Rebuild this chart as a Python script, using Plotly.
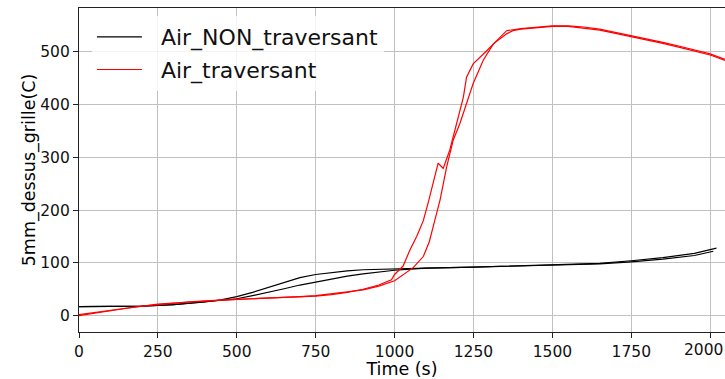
import plotly.graph_objects as go

# Air_NON_traversant, run 1 and run 2
non_t1 = [0, 100, 200, 300, 400, 450, 500, 550, 600, 650, 700, 750, 800, 850, 900, 950, 1000, 1100, 1250, 1500, 1650, 1750, 1850, 1950, 2020]
non_y1 = [17, 17, 18, 21, 26, 30, 36, 44, 53, 63, 72, 78, 82, 85, 87, 88, 89, 90, 92, 96, 99, 104, 110, 118, 128]
non_t2 = [0, 100, 200, 300, 400, 450, 500, 550, 600, 650, 700, 750, 800, 850, 900, 950, 1000, 1050, 1100, 1250, 1500, 1650, 1750, 1850, 1950, 2010]
non_y2 = [17, 17, 18, 21, 26, 29, 32, 38, 44, 51, 58, 64, 70, 75, 79, 83, 86, 88, 90, 92, 96, 98, 102, 107, 114, 122]

# Air_traversant, run 1 and run 2
tra_t1 = [0, 50, 100, 150, 200, 250, 300, 350, 400, 450, 500, 550, 600, 650, 700, 750, 800, 850, 900, 950, 990, 1000, 1027, 1049, 1070, 1091, 1107, 1125, 1138, 1146, 1154, 1175, 1197, 1218, 1228, 1249, 1292, 1323, 1355, 1400, 1450, 1500, 1550, 1600, 1650, 1700, 1750, 1800, 1850, 1900, 1950, 2000, 2050]
tra_y1 = [0, 5, 10, 14, 18, 21, 24, 26, 28, 30, 31, 32, 33, 34, 35, 37, 40, 44, 50, 58, 68, 78, 94, 125, 150, 180, 215, 255, 289, 284, 279, 314, 364, 414, 452, 477, 502, 521, 540, 544, 547, 549, 549, 547, 543, 537, 531, 524, 518, 511, 503, 496, 485]
tra_t2 = [0, 50, 100, 150, 200, 250, 300, 350, 400, 450, 500, 550, 600, 650, 700, 750, 800, 850, 900, 950, 1000, 1030, 1059, 1091, 1110, 1128, 1144, 1165, 1186, 1207, 1228, 1249, 1281, 1313, 1355, 1375, 1400, 1450, 1500, 1550, 1600, 1650, 1700, 1750, 1800, 1850, 1900, 1950, 2000, 2050]
tra_y2 = [2, 6, 10, 15, 19, 22, 24, 26, 28, 30, 31, 32, 33, 34, 36, 38, 41, 45, 49, 56, 66, 78, 91, 112, 140, 182, 219, 282, 333, 364, 402, 440, 484, 515, 534, 540, 543, 546, 548, 548, 545, 541, 535, 529, 522, 516, 509, 501, 494, 483]

x_ticks = [0, 250, 500, 750, 1000, 1250, 1500, 1750, 2000]
y_ticks = [0, 100, 200, 300, 400, 500]

pad = "\u00a0\u00a0"  # gap between legend line sample and label

fig = go.Figure()
fig.add_trace(go.Scatter(x=non_t1, y=non_y1, mode="lines", name=pad + "Air_NON_traversant",
                         line=dict(color="black", width=1.2), legendgroup="non"))
fig.add_trace(go.Scatter(x=non_t2, y=non_y2, mode="lines", name=pad + "Air_NON_traversant",
                         line=dict(color="black", width=1.2), legendgroup="non", showlegend=False))
fig.add_trace(go.Scatter(x=tra_t1, y=tra_y1, mode="lines", name=pad + "Air_traversant",
                         line=dict(color="red", width=1.2), legendgroup="tra"))
fig.add_trace(go.Scatter(x=tra_t2, y=tra_y2, mode="lines", name=pad + "Air_traversant",
                         line=dict(color="red", width=1.2), legendgroup="tra", showlegend=False))

font = "DejaVu Sans, sans-serif"
tick_font = dict(family=font, size=15.5, color="#111111")

# last tick label sits at the window edge, as in the reference
fig.add_annotation(x=1, y=0, xref="paper", yref="paper", text=str(x_ticks[-1]),
                   showarrow=False, xanchor="right", yanchor="top", yshift=-7,
                   font=tick_font)

fig.update_layout(
    width=725, height=379,
    margin=dict(l=79, r=0, t=8, b=47),
    paper_bgcolor="white", plot_bgcolor="white",
    font=dict(family=font, size=15, color="black"),
    showlegend=True,
    legend=dict(x=0.020, y=0.975, xanchor="left", yanchor="top",
                bgcolor="rgba(255,255,255,0.8)", borderwidth=0,
                font=dict(family=font, size=22, color="#111111"), itemwidth=45,
                tracegroupgap=1),
    xaxis=dict(range=[0, 2047], tickvals=x_ticks, ticktext=[str(v) for v in x_ticks],
               showgrid=True, gridcolor="#c0c0c0", gridwidth=1,
               showline=True, linecolor="#222222", linewidth=1.2, mirror=True,
               ticks="outside", ticklen=5, tickcolor="#222222",
               zeroline=False, tickfont=tick_font,
               title=dict(text="Time (s)", font=dict(size=17.5), standoff=4)),
    yaxis=dict(range=[-31, 583], tickvals=y_ticks, ticktext=[str(v) for v in y_ticks],
               showgrid=True, gridcolor="#c0c0c0", gridwidth=1,
               showline=True, linecolor="#222222", linewidth=1.2,
               ticks="outside", ticklen=5, tickcolor="#222222",
               zeroline=False, tickfont=tick_font,
               title=dict(text="5mm_dessus_grille(C)", font=dict(size=17.5), standoff=0)),
)

fig.write_html("out.html")
